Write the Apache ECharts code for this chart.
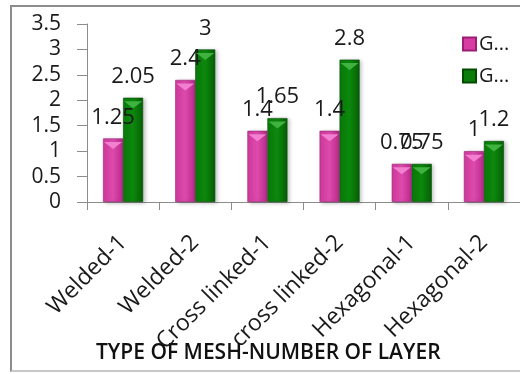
<!DOCTYPE html>
<html>
<head>
<meta charset="utf-8">
<script src="https://cdn.jsdelivr.net/npm/echarts@6/dist/echarts.min.js"></script>
<style>
  html, body { margin: 0; padding: 0; background: #fff; }
  #frame { position: absolute; left: 10px; top: 5px; width: 530px; height: 367px; border: 2px solid #8c8c8c; border-right: none; border-bottom-color: #c8c8c8; box-sizing: border-box; }
  #chart { position: absolute; left: 0; top: 0; width: 520px; height: 374px; }
</style>
</head>
<body>
<div id="frame"></div>
<div id="chart"></div>
<script>
// Mesh types and number of layers
const categories = ['Welded-1', 'Welded-2', 'Cross linked-1', 'cross linked-2', 'Hexagonal-1', 'Hexagonal-2'];
const seriesNames = ['G-1', 'G-2'];
const pinkValues = [1.25, 2.4, 1.4, 1.4, 0.75, 1];
const greenValues = [2.05, 3, 1.65, 2.8, 0.75, 1.2];
const yTicks = { min: 0, max: 3.5, interval: 0.5 };

const FONT = '"Open Sans", "Noto Sans", sans-serif';
const BAR_W = 20;
const CAT_GAP = '44%';

function barFill(dark, mid, light) {
  return new echarts.graphic.LinearGradient(0, 0, 1, 0, [
    { offset: 0, color: mid },
    { offset: 0.5, color: light },
    { offset: 1, color: dark }
  ]);
}

const pinkFill = barFill('#b8288a', '#d23b9f', '#dc4aac');
const greenFill = barFill('#055f05', '#0a7c0a', '#0c880c');

function barSeries(name, values, fill, edge) {
  return {
    name: name,
    type: 'bar',
    data: values,
    barWidth: BAR_W,
    barGap: '0%',
    barCategoryGap: CAT_GAP,
    itemStyle: {
      color: fill,
      borderColor: edge,
      borderWidth: 0.6,
      shadowColor: 'rgba(0,0,0,0.25)',
      shadowBlur: 4,
      shadowOffsetX: 2,
      shadowOffsetY: 1
    },
    label: {
      show: true,
      position: 'top',
      distance: 10,
      fontFamily: FONT,
      fontSize: 22,
      color: '#1a1a1a'
    },
    z: 2
  };
}

// bevel highlight on top of each bar
function bevelSeries(values, color) {
  return {
    type: 'pictorialBar',
    data: values,
    barWidth: BAR_W,
    barGap: '0%',
    barCategoryGap: CAT_GAP,
    symbol: 'path://M0,0 L10,0 L5,4 Z',
    symbolSize: [BAR_W - 2, 7],
    symbolPosition: 'end',
    symbolOffset: [0, '50%'],
    itemStyle: { color: color },
    silent: true,
    legendHoverLink: false,
    z: 3
  };
}

const chart = echarts.init(document.getElementById('chart'), null, { renderer: 'canvas' });
chart.setOption({
  animation: false,
  backgroundColor: 'transparent',
  grid: { left: 87, right: 0, top: 24, bottom: 172, containLabel: false },
  title: {
    text: 'TYPE OF MESH-NUMBER OF LAYER',
    left: 96,
    top: 343,
    padding: 0,
    textStyle: { fontFamily: FONT, fontSize: 21, fontWeight: 600, color: '#111' }
  },
  legend: {
    data: [
      { name: seriesNames[0], itemStyle: { color: '#d63ca2' } },
      { name: seriesNames[1], itemStyle: { color: '#0a7d0a' } }
    ],
    formatter: function (name) { return name.charAt(0) + '...'; },
    orient: 'vertical',
    left: 462,
    top: 34,
    padding: 0,
    itemWidth: 13,
    itemHeight: 13,
    itemGap: 12,
    icon: 'rect',
    textStyle: { fontFamily: FONT, fontSize: 20, color: '#1a1a1a', padding: [0, 0, 0, -2] }
  },
  xAxis: {
    type: 'category',
    data: categories,
    axisLine: { lineStyle: { color: '#8c8c8c', width: 1 } },
    axisTick: { show: true, length: 8, lineStyle: { color: '#8c8c8c' } },
    axisLabel: {
      rotate: 45,
      interval: 0,
      margin: 37,
      fontFamily: FONT,
      fontSize: 23,
      color: '#1a1a1a'
    },
    splitLine: { show: false }
  },
  yAxis: {
    type: 'value',
    min: yTicks.min,
    max: yTicks.max,
    interval: yTicks.interval,
    axisLine: { show: true, lineStyle: { color: '#8c8c8c', width: 1 } },
    axisTick: { show: true, length: 10, lineStyle: { color: '#8c8c8c' } },
    axisLabel: { fontFamily: FONT, fontSize: 21, color: '#1a1a1a', margin: 26 },
    splitLine: { show: false }
  },
  series: [
    barSeries(seriesNames[0], pinkValues, pinkFill, '#9c1f74'),
    barSeries(seriesNames[1], greenValues, greenFill, '#034a03'),
    bevelSeries(pinkValues, '#f27fcf'),
    bevelSeries(greenValues, '#3fb23f')
  ]
});
</script>
</body>
</html>
